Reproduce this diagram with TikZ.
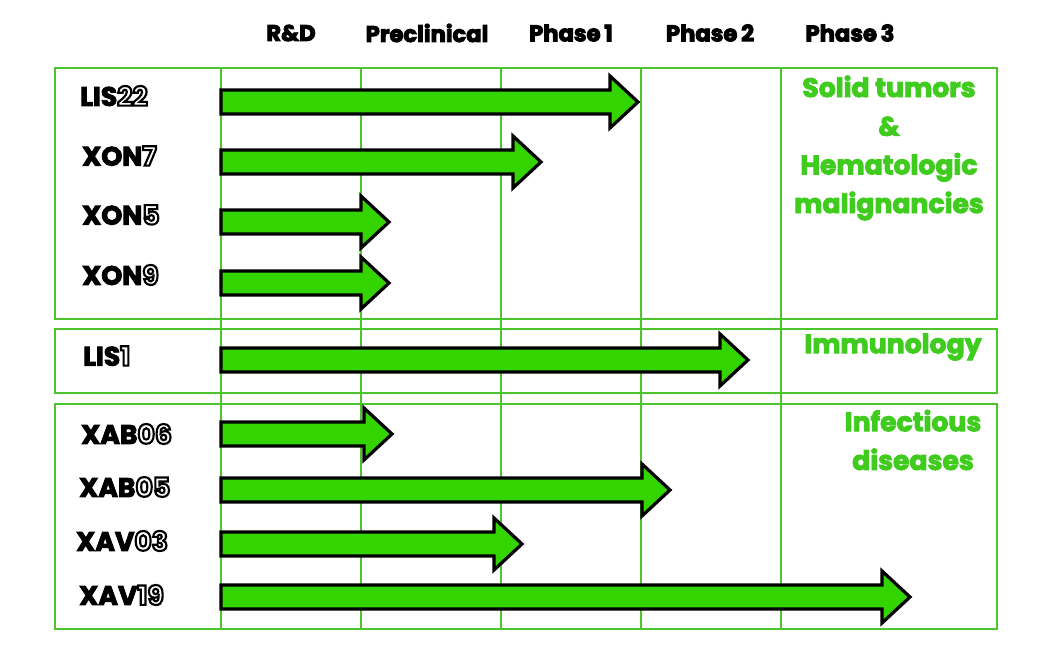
\documentclass[tikz,border=0pt]{standalone}
\usepackage{fontspec}
\setmainfont{Poppins}
\usetikzlibrary{calc}
\newcommand{\hollow}[1]{\special{pdf:code q 2 Tr 1.6 w 0 G 1 g}#1\special{pdf:code Q}}
\newcommand{\heavyon}{\special{pdf:code q 2 Tr 0.7 w}}
\newcommand{\heavyoff}{\special{pdf:code Q}}

\begin{document}
\begin{tikzpicture}[x=0.75pt,y=-0.75pt,
    heavy/.style={execute at begin node=\heavyon,execute at end node=\heavyoff},
    phase/.style={heavy,inner sep=0pt,font=\bfseries\fontsize{17}{20}\selectfont},
    drug/.style={heavy,anchor=west,inner sep=0pt,font=\bfseries\fontsize{20}{24}\selectfont},
    area/.style={heavy,inner sep=0pt,text=areagreen,align=center,font=\bfseries\fontsize{20}{29}\selectfont},
    pipe/.style={fill=pipegreen,draw=black,line width=2.4pt,line join=miter},
    boxline/.style={draw=boxgreen,line width=2.2pt},
    gridline/.style={draw=boxgreen,line width=0.8pt}]
    \definecolor{boxgreen}{HTML}{4CC42C}
    \definecolor{pipegreen}{HTML}{33D400}
    \definecolor{areagreen}{HTML}{40CC1E}
    \useasboundingbox (0,0) rectangle (1051,671);

% grid
    \foreach \x in {221,361,501,641,781}
        \draw[gridline] (\x,68) -- (\x,629);
    % boxes
    \draw[boxline] (55,68) rectangle (997,319);
    \draw[boxline] (55,329) rectangle (997,393);
    \draw[boxline] (55,404) rectangle (997,629);
    % headers
    \node[phase] (rd) at (291,33) {R\&D};
    \node[phase] (precl) at (427,33) {Preclinical};
    \node[phase] (ph1) at (571,33) {Phase\,1};
    \node[phase] (ph2) at (710,33) {Phase\,2};
    \node[phase] (ph3) at (850,33) {Phase\,3};
    % arrows
    \foreach \y/\tip in {102/640,162/543,222/391,283/391,360/750,434/394,490/672,544/524,597/912}
        \draw[pipe] (221,{\y-12}) -- ({\tip-30},{\y-12}) -- ({\tip-30},{\y-26})
            -- ({\tip-2},\y) -- ({\tip-30},{\y+26}) -- ({\tip-30},{\y+12})
            -- (221,{\y+12}) -- cycle;
    % drugs
    \node[drug] (lis22) at (80,96) {LIS\hollow{22}};
    \node[drug] (xon7) at (82,156) {XON\hollow{7}};
    \node[drug] (xon5) at (82,215) {XON\hollow{5}};
    \node[drug] (xon9) at (82,275) {XON\hollow{9}};
    \node[drug] (lis1) at (83,356) {LIS\hollow{1}};
    \node[drug] (xab06) at (81,434) {XAB\hollow{06}};
    \node[drug] (xab05) at (79,487) {XAB\hollow{05}};
    \node[drug] (xav03) at (76,541) {XAV\hollow{03}};
    \node[drug] (xav19) at (79,595) {XAV\hollow{19}};
    % areas
    \node[area] (solid) at (889,148) {Solid tumors\\\&\\Hematologic\\malignancies};
    \node[area] (immuno) at (893,347) {Immunology};
    \node[area] (infect) at (913,440) {Infectious\\diseases};
\end{tikzpicture}
\end{document}
